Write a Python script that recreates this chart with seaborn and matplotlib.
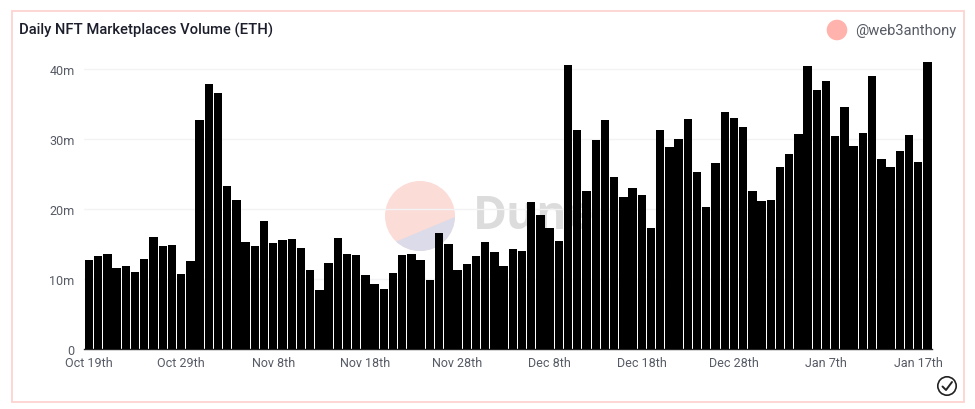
import matplotlib
matplotlib.use("Agg")
import matplotlib.pyplot as plt
from matplotlib.patches import Circle, Rectangle, Polygon
from matplotlib.lines import Line2D
from matplotlib.transforms import IdentityTransform
import pandas as pd
import seaborn as sns

title = "Daily NFT Marketplaces Volume (ETH)"
author = "@web3anthony"
watermark = "Dune"

days = pd.date_range("2021-10-19", "2022-01-18", freq="D")
volume_m = [
    12.8, 13.4, 13.7, 11.7, 11.9, 11.1, 12.9, 16.0, 14.8, 14.9, 10.8, 12.7,
    32.8, 37.9, 36.7, 23.4, 21.4, 15.4, 14.8, 18.3, 15.2, 15.7, 15.8, 14.5,
    11.4, 8.5, 12.4, 15.9, 13.6, 13.5, 10.7, 9.3, 8.6, 10.9, 13.5, 13.7,
    12.8, 9.9, 16.6, 15.1, 11.4, 12.2, 13.4, 15.3, 13.9, 11.9, 14.3, 14.1,
    21.1, 19.2, 17.3, 15.5, 40.7, 31.4, 22.7, 29.9, 32.8, 24.6, 21.8, 23.0,
    22.0, 17.4, 31.4, 28.9, 30.1, 32.9, 25.3, 20.4, 26.7, 33.9, 33.0, 31.8,
    22.7, 21.2, 21.4, 26.1, 27.9, 30.8, 40.5, 37.1, 38.3, 30.5, 34.6, 29.1,
    30.9, 39.0, 27.2, 26.1, 28.4, 30.7, 26.8, 41.1,
]
x_tick_labels = ["Oct 19th", "Oct 29th", "Nov 8th", "Nov 18th", "Nov 28th",
                 "Dec 8th", "Dec 18th", "Dec 28th", "Jan 7th", "Jan 17th"]
y_ticks = [0, 10, 20, 30, 40]
y_tick_labels = ["0", "10m", "20m", "30m", "40m"]

W, H = 975, 410
sns.set_theme(style="white")
plt.rcParams["font.family"] = ["Roboto", "DejaVu Sans"]
TICK = "#565a64"

fig = plt.figure(figsize=(W / 100, H / 100), dpi=100, facecolor="white")


def fx(px):
    return px / W


def fy(py):
    return 1 - py / H


def to_disp(px, py):
    return (px, H - py)


# panel border
fig.add_artist(Rectangle((fx(11.5), fy(403)), fx(964) - fx(11.5), fy(12) - fy(403),
                         transform=fig.transFigure, fill=False,
                         edgecolor="#fdd3cf", linewidth=1.3))

# watermark
cx, cy, rad = 420.0, 217.0, 35.0
circle_up = Circle(to_disp(cx, cy), rad, transform=IdentityTransform(),
                   facecolor="#fbdcd6", edgecolor="none")
circle_low = Circle(to_disp(cx, cy), rad, transform=IdentityTransform(),
                    facecolor="#dbdbe9", edgecolor="none")
fig.add_artist(circle_up)
fig.add_artist(circle_low)
clip = Polygon([to_disp(375, 251.4), to_disp(465, 213.8), to_disp(465, 260), to_disp(375, 260)],
               transform=IdentityTransform(), closed=True)
circle_low.set_clip_path(clip)
fig.text(fx(473), fy(217), watermark, fontsize=33, fontweight="bold", color="#dcdcdc",
         family="Open Sans", va="center", ha="left")

ax_left, ax_right, ax_top, ax_bottom = 84.4, 932.0, 60.0, 350.4
ax = fig.add_axes([fx(ax_left), fy(ax_bottom), fx(ax_right) - fx(ax_left),
                   fy(ax_top) - fy(ax_bottom)], facecolor="none")
ax.set_zorder(5)

sns.barplot(x=days.strftime("%Y-%m-%d"), y=volume_m, color="black", saturation=1,
            width=0.91, linewidth=0, ax=ax, zorder=3)

ax.set_xlim(-0.5, len(days) - 0.5)
ax.set_ylim(0, (ax_bottom - ax_top) / 7.0)
ax.set_xticks(list(range(0, 10 * len(x_tick_labels), 10)))
ax.set_xticklabels(x_tick_labels, fontsize=9, color=TICK)
ax.set_yticks(y_ticks)
ax.set_yticklabels(y_tick_labels, fontsize=9, color=TICK)
ax.tick_params(axis="both", length=0)
ax.tick_params(axis="x", pad=5)
ax.tick_params(axis="y", pad=7)
ax.set_xlabel("")
ax.set_ylabel("")
ax.grid(axis="y", color="#f3f3f5", linewidth=1)
ax.set_axisbelow(True)
for side in ["top", "right", "left"]:
    ax.spines[side].set_visible(False)
ax.spines["bottom"].set_color("#222222")
ax.spines["bottom"].set_linewidth(1)

# title
fig.text(fx(19), fy(30.5), title, fontsize=10.6, fontweight="medium", color="#1c1f2b",
         va="center", ha="left")

# author badge
fig.add_artist(Circle(to_disp(837, 31), 10.3, transform=IdentityTransform(),
                      facecolor="#ffb3ac", edgecolor="none"))
fig.text(fx(855), fy(30.5), author, fontsize=10.6, color=TICK, va="center", ha="left")

# check icon
fig.add_artist(Circle(to_disp(947, 387), 9.2, transform=IdentityTransform(),
                      facecolor="none", edgecolor="#222222", linewidth=1.2))
fig.add_artist(Line2D([942.5, 946, 952], [H - 387.5, H - 391, H - 383],
                      transform=IdentityTransform(), color="#222222", linewidth=1.4))

fig.savefig("out.png", dpi=100, facecolor="white")
